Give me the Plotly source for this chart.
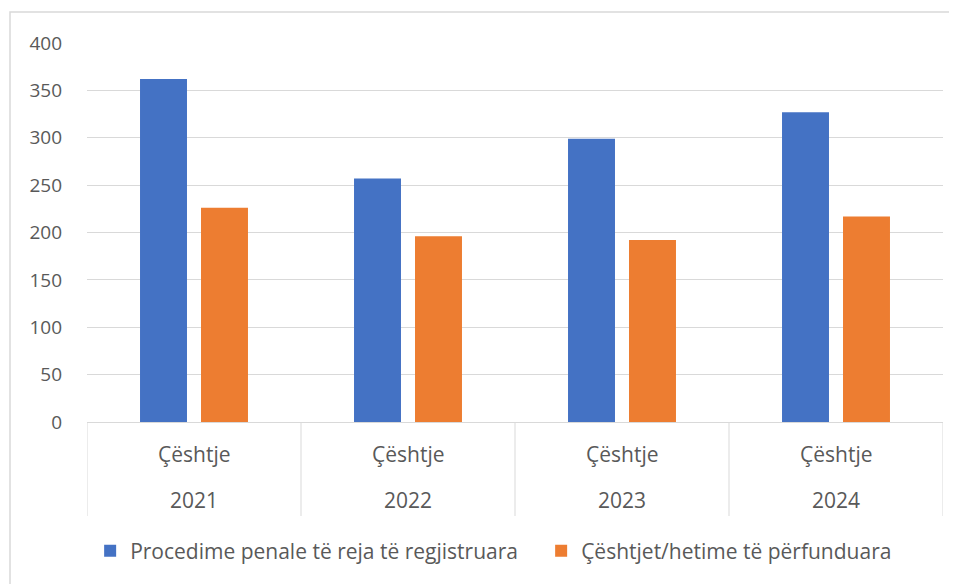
import plotly.graph_objects as go

years = ["2021", "2022", "2023", "2024"]
inner_label = "Çështje"
series_names = ["Procedime penale të reja të regjistruara", "Çështjet/hetime të përfunduara"]
registered = [362, 257, 299, 327]
completed = [226, 196, 192, 217]
colors = ["#4472C4", "#ED7D31"]
y_ticks = [0, 50, 100, 150, 200, 250, 300, 350, 400]

# page body has an 8px margin, so the figure is drawn 8px in from the window edge
OFF = 8
W, H = 957 - OFF, 584 - OFF
L, R, T, B = 87 - OFF, 14, 43 - OFF, 162
PH = H - T - B
PW = W - L - R
font = "Open Sans"
gray = "#595959"
grid = "#D9D9D9"

idx = list(range(len(years)))

fig = go.Figure()
for name, vals, c in zip(series_names, [registered, completed], colors):
    fig.add_trace(go.Bar(x=idx, y=vals, name=name, marker_color=c,
                         marker_line_width=0))

fig.update_layout(
    width=W, height=H,
    margin=dict(l=L, r=R, t=T, b=B, autoexpand=False),
    paper_bgcolor="white", plot_bgcolor="white",
    barmode="group", bargap=0.43, bargroupgap=0.23,
    font=dict(family=font, size=19, color=gray),
    showlegend=True,
    legend=dict(orientation="h", x=-0.001, xanchor="left", y=-129 / PH,
                yanchor="middle", font=dict(family=font, size=21, color=gray),
                itemwidth=30, entrywidth=406, traceorder="normal",
                borderwidth=4, bordercolor="rgba(0,0,0,0)", bgcolor="rgba(0,0,0,0)"),
    xaxis=dict(range=[-0.5, len(years) - 0.5], showgrid=False, showline=True,
               linecolor=grid, linewidth=1, ticks="", showticklabels=False,
               zeroline=False),
    yaxis=dict(range=[0, 400], tickvals=y_ticks, showgrid=True, gridcolor=grid,
               gridwidth=1, zeroline=False, showline=False, ticks="",
               ticklabelstandoff=24,
               tickfont=dict(family=font, size=19, color=gray)),
)

# two-level category labels
for i, yr in zip(idx, years):
    fig.add_annotation(x=i, y=0, xref="x", yref="paper", yshift=-32, text=inner_label,
                       showarrow=False, yanchor="middle",
                       font=dict(family=font, size=21, color=gray))
    fig.add_annotation(x=i, y=0, xref="x", yref="paper", yshift=-78, text=yr,
                       showarrow=False, yanchor="middle",
                       font=dict(family=font, size=21, color=gray))

# group dividers
for i in range(len(years) + 1):
    fig.add_shape(type="line", xref="x", yref="paper", x0=i - 0.5, x1=i - 0.5,
                  y0=0, y1=-94 / PH, line=dict(color=grid, width=1))

# chart frame
fig.add_shape(type="rect", xref="paper", yref="paper",
              x0=(10 - OFF - L) / PW, x1=(W + 40 - L) / PW,
              y0=-(B + 40) / PH, y1=(PH + T - (12 - OFF)) / PH,
              line=dict(color=grid, width=1.5), layer="below")

fig.write_html("out.html")
